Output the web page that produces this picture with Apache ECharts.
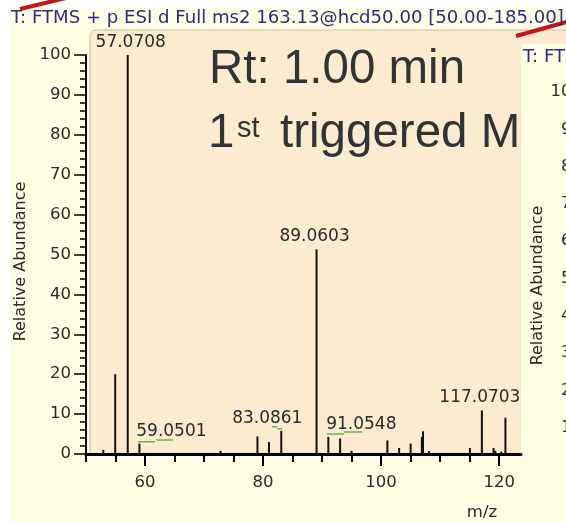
<!DOCTYPE html>
<html><head><meta charset="utf-8">
<script src="https://cdn.jsdelivr.net/npm/echarts@6/dist/echarts.min.js"></script>
<style>html,body{margin:0;padding:0;background:#fff}#c{width:566px;height:522px}</style>
</head><body><div id="c"></div>
<script>
// ---- data ----
const titleText = 'T: FTMS + p ESI d Full ms2 163.13@hcd50.00 [50.00-185.00]';
const rightTitleText = 'T: FTMS + p ESI d Full ms2';
const rtLine1 = 'Rt: 1.00 min';
const xAxisName = 'm/z';
const yAxisName = 'Relative Abundance';
const peakMz  = [52.93, 54.95, 57.0708, 59.0501, 72.8, 79.05, 81.0, 83.0861, 89.0603, 91.0548, 93.05, 95.0, 101.06, 103.05, 105.0, 106.9, 107.1, 108.1, 115.05, 117.0703, 119.05, 119.35, 120.35, 121.06];
const peakInt = [1.0,   20.0,  100,     2.6,     0.8,  4.4,   3.0,  5.8,     51.3,    4.3,     3.9,   0.8,  3.4,    1.5,    2.6,   4.3,   5.7,   0.7,   1.5,    10.9,     1.5,    0.8,    0.6,    9.1];
const labeledPeaks = ['57.0708', '59.0501', '83.0861', '89.0603', '91.0548', '117.0703'];
const noiseSegments = [[56.8, 57.4, 100.8], [58.8, 61.7, 3.1], [61.9, 64.7, 3.5], [81.5, 82.4, 6.8], [82.4, 83.2, 6.3], [90.8, 93.7, 5.0], [93.7, 96.8, 5.5]];
const xTickLabels = [60, 80, 100, 120];
const xMinorTicks = [50, 55, 60, 65, 70, 75, 80, 85, 90, 95, 100, 105, 110, 115, 120];
const xMin = 50, xMax = 123.7;
const yMin = 0, yMax = 100, yStep = 10;

// ---- styles ----
const labelOffsets = {'57.0708': [3, 0], '59.0501': [32, 0], '83.0861': [-14, 0], '89.0603': [-2, 0], '91.0548': [33, 0], '117.0703': [-2, 0]};
const FONT = 'DejaVu Sans';
const INK = '#2a2a2a';
const YELLOW = '#FFFDE4', PEACH = '#FDEBD1', NAVY = '#2e2b80', RED = '#C0161C';
const BIG = '47.5px "Liberation Sans"';

const barData = peakMz.map((m, i) => {
  const key = m.toFixed(4);
  const item = {value: [m, peakInt[i]]};
  if (labeledPeaks.includes(key)) {
    item.label = {show: true, position: 'top', distance: 4, offset: labelOffsets[key] || [0, 0],
      formatter: key, fontSize: 17, fontFamily: FONT, color: INK};
  }
  return item;
});
const noiseData = [];
noiseSegments.forEach(s => { noiseData.push([s[0], s[2]], [s[1], s[2]], '-'); });

function yAxisCfg(grid, gap) {
  return {
    type: 'value', gridIndex: grid, min: yMin, max: yMax, interval: yStep,
    axisLine: {show: true, lineStyle: {color: '#000', width: 2}},
    axisTick: {show: true, length: 12, lineStyle: {color: '#000', width: 1.5}},
    minorTick: {show: true, splitNumber: 5, length: 6, lineStyle: {color: '#000', width: 1.5}},
    axisLabel: {margin: 15, fontSize: 16.5, fontFamily: FONT, color: INK},
    splitLine: {show: false}, minorSplitLine: {show: false},
    name: yAxisName, nameLocation: 'middle', nameGap: gap,
    nameTextStyle: {fontSize: 16, fontFamily: FONT, color: INK, padding: [0, 14, 0, 0]}
  };
}

const chart = echarts.init(document.getElementById('c'), null, {renderer: 'canvas'});
chart.setOption({
  backgroundColor: '#ffffff',
  animation: false,
  title: [
    {text: titleText, left: 11, top: 9, padding: 0, textStyle: {fontSize: 18.1, fontWeight: 'normal', fontFamily: FONT, color: NAVY}},
    {text: rightTitleText, left: 523, top: 48, padding: 0, textStyle: {fontSize: 18.1, fontWeight: 'normal', fontFamily: FONT, color: NAVY}}
  ],
  graphic: {elements: [
    {type: 'rect', z: -10, silent: true, shape: {x: 10, y: 8, width: 556, height: 514}, style: {fill: YELLOW}},
    {type: 'rect', z: -9, silent: true, shape: {x: 90, y: 30, width: 490, height: 425, r: [6, 0, 0, 0]}, style: {fill: PEACH, stroke: '#c9bca6', lineWidth: 1}},
    {type: 'text', z: -8, silent: true, style: {x: 209, y: 70, text: rtLine1, font: BIG, fill: '#333', verticalAlign: 'middle'}},
    {type: 'text', z: -8, silent: true, style: {x: 208, y: 134, text: '1', font: BIG, fill: '#333', verticalAlign: 'middle'}},
    {type: 'text', z: -8, silent: true, style: {x: 237, y: 129, text: 'st', font: '29px "Liberation Sans"', fill: '#333', verticalAlign: 'middle'}},
    {type: 'text', z: -8, silent: true, style: {x: 280, y: 134, text: 'triggered M', font: BIG, fill: '#333', verticalAlign: 'middle'}},
    {type: 'rect', z: -7, silent: true, shape: {x: 521, y: 44, width: 45, height: 478}, style: {fill: YELLOW}},
    {type: 'line', z: -6, silent: true, shape: {x1: 20, y1: 9, x2: 66, y2: -2}, style: {stroke: RED, lineWidth: 4}},
    {type: 'line', z: -6, silent: true, shape: {x1: 516, y1: 36, x2: 570, y2: 21}, style: {stroke: RED, lineWidth: 4}}
  ]},
  grid: [
    {left: 86, top: 55, right: 45, bottom: 68},
    {left: 597, top: 92, width: 100, height: 373}
  ],
  xAxis: [
    {type: 'value', gridIndex: 0, position: 'bottom', min: xMin, max: xMax,
      axisLine: {show: true, onZero: false, lineStyle: {color: '#000', width: 3}},
      axisTick: {show: true, customValues: xMinorTicks, length: 8, lineStyle: {color: '#000', width: 2}},
      axisLabel: {customValues: xTickLabels, margin: 20, fontSize: 16.5, fontFamily: FONT, color: INK},
      splitLine: {show: false},
      name: xAxisName, nameLocation: 'end', nameGap: -39,
      nameTextStyle: {fontSize: 16.5, fontFamily: FONT, color: INK, align: 'center', verticalAlign: 'top', padding: [50, 0, 0, 0]}},
    {type: 'value', gridIndex: 0, position: 'bottom', min: xMin, max: xMax,
      axisLine: {show: false},
      axisTick: {show: true, customValues: xTickLabels, length: 12, lineStyle: {color: '#000', width: 2}},
      axisLabel: {show: false}, splitLine: {show: false}},
    {type: 'value', gridIndex: 1, min: 0, max: 1, show: false}
  ],
  yAxis: [yAxisCfg(0, 47), yAxisCfg(1, 51)],
  series: [
    {type: 'bar', xAxisIndex: 0, yAxisIndex: 0, barWidth: 2, itemStyle: {color: '#111'}, data: barData, silent: true, z: 3},
    {type: 'line', xAxisIndex: 0, yAxisIndex: 0, data: noiseData, showSymbol: false, symbol: 'none', connectNulls: false,
      lineStyle: {color: '#5db84a', width: 1.5}, silent: true, z: 4}
  ]
});
</script></body></html>
